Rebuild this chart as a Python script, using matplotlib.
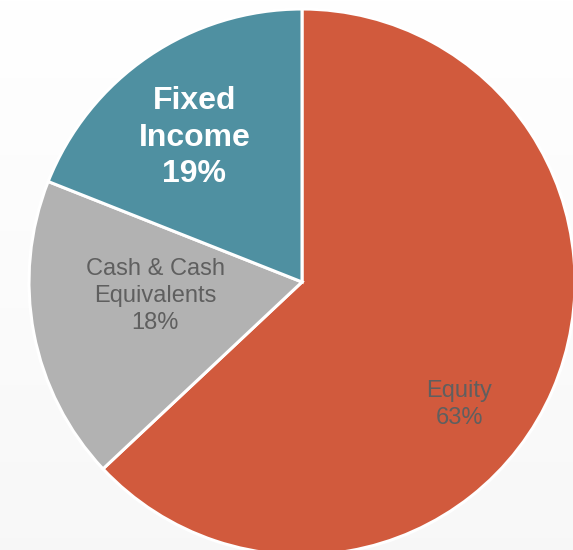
import numpy as np
import matplotlib
matplotlib.use('Agg')
import matplotlib.pyplot as plt

plt.rcParams['font.family'] = ['Liberation Sans', 'DejaVu Sans']

# asset allocation
labels = ['Equity', 'Cash & Cash\nEquivalents', 'Fixed\nIncome']
shares = [63, 18, 19]
colors = ['#D15A3D', '#B2B2B2', '#4F90A1']
text_colors = ['#5F5F5F', '#5F5F5F', '#FFFFFF']
weights = ['normal', 'normal', 'bold']
sizes = [17, 17, 23]
# label placement: (angle deg, fraction of radius)
label_pos = [(-37.9, 0.73), (185.5, 0.54), (126.7, 0.66)]

W, H = 573, 550
fig = plt.figure(figsize=(W / 100, H / 100), dpi=100)

# faint vertical background shading
bg = fig.add_axes([0, 0, 1, 1])
grad = np.linspace(1.0, 0.972, 256).reshape(-1, 1)
bg.imshow(np.dstack([grad, grad, grad]), aspect='auto', extent=[0, 1, 0, 1])
bg.axis('off')

ax = fig.add_axes([0, 0, 1, 1])
ax.patch.set_alpha(0)

cx, cy, r = 302, H - 282, 273
ax.pie(shares, colors=colors, startangle=90, counterclock=False,
       center=(cx, cy), radius=r, frame=True,
       wedgeprops=dict(edgecolor='white', linewidth=2.2))
ax.set_xlim(0, W)
ax.set_ylim(0, H)
ax.set_aspect('equal')
ax.axis('off')

for lab, pct, tc, fw, fs, (ang, frac) in zip(labels, shares, text_colors, weights, sizes, label_pos):
    a = np.deg2rad(ang)
    ax.text(cx + frac * r * np.cos(a), cy + frac * r * np.sin(a),
            f'{lab}\n{pct}%', ha='center', va='center', color=tc,
            fontsize=fs, fontweight=fw, linespacing=1.28)

fig.savefig('out.png', dpi=100)
